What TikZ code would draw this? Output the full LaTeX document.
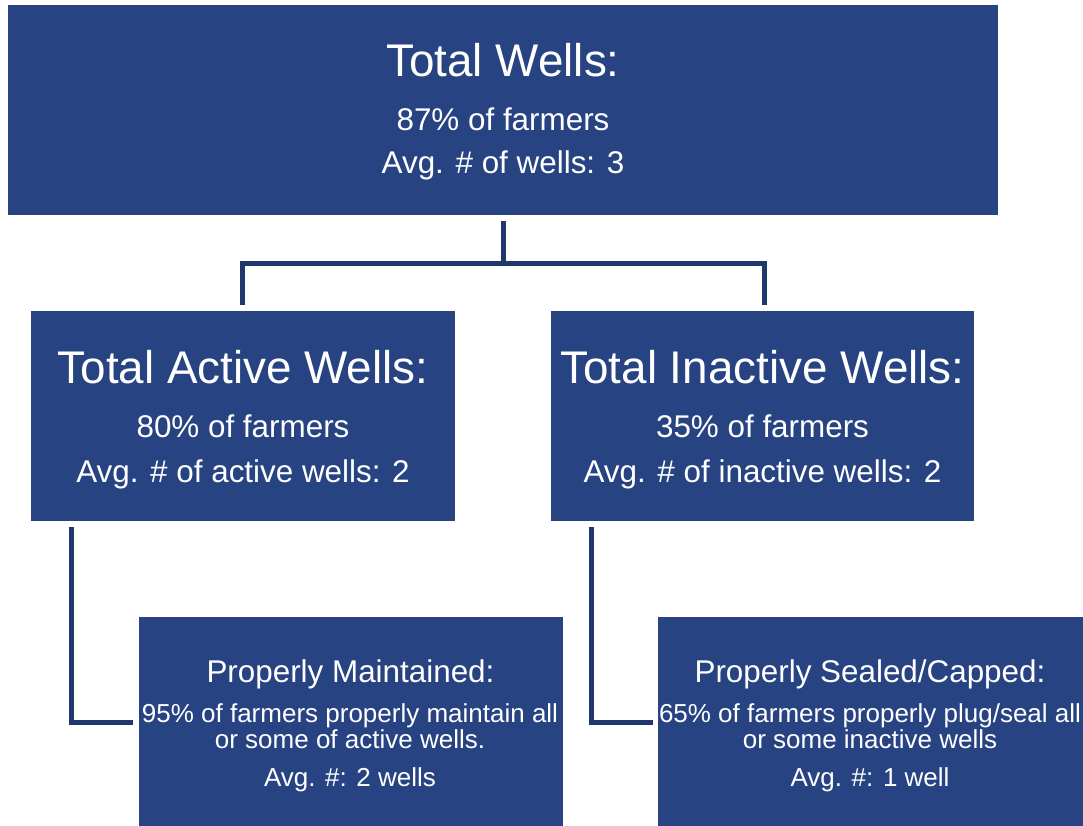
\documentclass[tikz,border=0pt]{standalone}
\usepackage{fontspec}
\setmainfont{Liberation Sans}
\definecolor{boxblue}{RGB}{39,67,130}
\definecolor{lineblue}{RGB}{31,55,106}
\tikzset{
  box/.style={fill=boxblue, draw=none},
  conn/.style={draw=lineblue, line width=5pt},
  txt/.style={text=white, anchor=base, inner sep=0pt},
  bigt/.style={txt, font=\fontsize{45.8}{46}\selectfont},
  midt/.style={txt, font=\fontsize{31.4}{31}\selectfont},
  smallt/.style={txt, font=\fontsize{26}{26}\selectfont},
}
\begin{document}
\begin{tikzpicture}[x=1pt,y=-1pt]
\useasboundingbox (0,0) rectangle (1083,825);
\begin{scope}
\clip (0,0) rectangle (1083,825);
% boxes
\path[box] (8,5) rectangle (998,215) coordinate (topSE);
\node[inner sep=0pt, minimum width=990pt, minimum height=210pt] (top) at (503,110) {};
\path[box] (31,311) rectangle (455,521);
\node[inner sep=0pt, minimum width=424pt, minimum height=210pt] (act) at (243,416) {};
\path[box] (551,311) rectangle (974,521);
\node[inner sep=0pt, minimum width=423pt, minimum height=210pt] (inact) at (762.5,416) {};
\path[box] (139,617) rectangle (563,835);
\node[inner sep=0pt, minimum width=424pt, minimum height=218pt] (maint) at (351,726) {};
\path[box] (658,617) rectangle (1090,835);
\node[inner sep=0pt, minimum width=432pt, minimum height=218pt] (seal) at (874,726) {};
\end{scope}
% texts
\node[bigt] (t1) at (503,76) {Total Wells:};
\node[midt] (t2) at (503,130) {87\% of farmers};
\node[midt] (t3) at (503,173) {Avg. \# of wells: 3};
\node[bigt] (a1) at (243,383) {Total Active Wells:};
\node[midt] (a2) at (243,437) {80\% of farmers};
\node[midt] (a3) at (243,482) {Avg. \# of active wells: 2};
\node[bigt] (i1) at (762.5,383) {Total Inactive Wells:};
\node[midt] (i2) at (762.5,437) {35\% of farmers};
\node[midt] (i3) at (762.5,482) {Avg. \# of inactive wells: 2};
\node[midt] (m1) at (350.5,682) {Properly Maintained:};
\node[smallt] (m2) at (350,722) {95\% of farmers properly maintain all};
\node[smallt] (m3) at (350,748) {or some of active wells.};
\node[smallt] (m4) at (350,786) {Avg. \#: 2 wells};
\node[midt] (s1) at (870,682) {Properly Sealed/Capped:};
\node[smallt] (s2) at (870,722) {65\% of farmers properly plug/seal all};
\node[smallt] (s3) at (870,748) {or some inactive wells};
\node[smallt] (s4) at (870,786) {Avg. \#: 1 well};
% connectors
\coordinate (j) at (503,263.5);
\draw[conn] ([yshift=-6pt]top.south) -- (j);
\draw[conn] ([yshift=6pt]act.north -| 242,0) |- (j) -| ([yshift=6pt]inact.north -| 764,0);
\draw[conn] ([yshift=-6pt]act.south -| 71,0) |- ([xshift=-6pt]maint.west |- 0,722);
\draw[conn] ([yshift=-6pt]inact.south -| 591,0) |- ([xshift=-5pt]seal.west |- 0,722);
\end{tikzpicture}
\end{document}
